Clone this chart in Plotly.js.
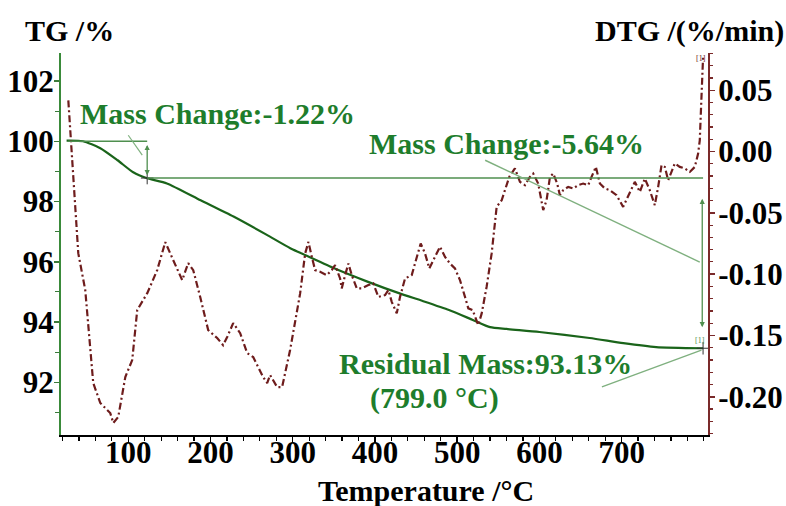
<!DOCTYPE html>
<html>
<head>
<meta charset="utf-8">
<script src="https://cdn.plot.ly/plotly-3.0.1.min.js"></script>
<style>html,body{margin:0;padding:0;background:#fff;}#chart{width:786px;height:506px;}</style>
</head>
<body>
<div id="chart"></div>
<script>
// ---- TG curve (Temperature °C, mass %)
const tgTemp = [25,45,66,87,106,123,147,188,228,268,297,309,349,390,430,458,490,519,540,560,600,661,702,742,799];
const tgMass = [100.02,100.0,99.77,99.37,98.97,98.77,98.6,98.04,97.5,96.9,96.45,96.3,95.8,95.35,94.95,94.7,94.4,94.07,93.83,93.77,93.67,93.47,93.3,93.17,93.13];

// ---- DTG curve (Temperature °C, %/min)
const dtgTemp = [27.1,33.1,39.2,47.7,57.4,66.0,78.1,81.8,87.8,96.4,104.8,110.9,123.1,135.2,145.0,154.7,165.6,172.9,179.0,187.5,197.2,208.1,215.4,220.3,227.6,236.1,244.6,251.9,264.0,268.9,272.5,281.0,287.1,296.8,302.9,309.0,315.1,319.1,323.2,327.2,333.3,341.4,347.5,351.5,357.6,359.6,363.7,367.7,371.8,377.9,383.9,392.0,398.0,404.1,412.3,416.3,420.4,426.5,430.5,436.6,444.7,450.8,455.6,460.9,466.1,473.0,479.1,485.2,491.2,497.3,503.4,509.5,513.5,518.8,523.7,525.6,529.8,535.8,541.9,548.0,554.1,558.1,563.3,570.2,576.3,582.4,588.4,592.5,598.5,604.6,608.7,612.8,616.8,621.6,624.9,628.9,635.0,641.1,647.1,653.2,659.3,663.4,668.6,673.5,679.6,685.6,693.8,701.8,709.9,716.0,722.1,728.2,734.2,740.3,744.4,748.5,752.5,756.5,760.6,764.6,770.7,776.8,782.9,789.0,793.0,795.0,796.9,799.0];
const dtgRate = [0.0418,-0.0234,-0.0829,-0.113,-0.1888,-0.2051,-0.2133,-0.2214,-0.2165,-0.1839,-0.1701,-0.1293,-0.1155,-0.0967,-0.0739,-0.0886,-0.1049,-0.0910,-0.0967,-0.1187,-0.1456,-0.1521,-0.1579,-0.1513,-0.1399,-0.1481,-0.1644,-0.1676,-0.1839,-0.1888,-0.1823,-0.1921,-0.1921,-0.1619,-0.1402,-0.1157,-0.0831,-0.0737,-0.0859,-0.0967,-0.0981,-0.1008,-0.0967,-0.0926,-0.1035,-0.1116,-0.1008,-0.0913,-0.1008,-0.1116,-0.1116,-0.1089,-0.1076,-0.1185,-0.1171,-0.1130,-0.1226,-0.1320,-0.1185,-0.1035,-0.1008,-0.0859,-0.0750,-0.0831,-0.0953,-0.0859,-0.0777,-0.0859,-0.0913,-0.0953,-0.1049,-0.1185,-0.1279,-0.1293,-0.1375,-0.1415,-0.1320,-0.1103,-0.0831,-0.0451,-0.0397,-0.0315,-0.0207,-0.0138,-0.0247,-0.0274,-0.0207,-0.0179,-0.0261,-0.0478,-0.0397,-0.0207,-0.0179,-0.0261,-0.0356,-0.0315,-0.0288,-0.0301,-0.0274,-0.0261,-0.0274,-0.0207,-0.0125,-0.0261,-0.0301,-0.0315,-0.0356,-0.0451,-0.0342,-0.0247,-0.0329,-0.0220,-0.0315,-0.0437,-0.0288,-0.0111,-0.0125,-0.0234,-0.0166,-0.0097,-0.0125,-0.0138,-0.0166,-0.0125,-0.0016,0.0092,0.0418,0.0769];

// ---- ticks
const xTickVals = [100,200,300,400,500,600,700];
const tgTickVals = [92,94,96,98,100,102];
const dtgTickVals = [0.05,0.00,-0.05,-0.10,-0.15,-0.20];
const dtgTickText = ["0.05","0.00","-0.05","-0.10","-0.15","-0.20"];

// ---- annotation values
const step1 = {tStart: 27, tEnd: 123, mStart: 100.0, mEnd: 98.78};
const endPoint = {t: 799, m: 93.13};
const labels = {
  change1: "Mass Change:-1.22%",
  change2: "Mass Change:-5.64%",
  residual: "Residual Mass:93.13%",
  residualT: "(799.0 °C)"
};

const FONT = "Liberation Serif, Times New Roman, serif";
const GREEN_TXT = "#1e7d2c";
const GREEN_LINE = "#4f8f4f";
const GREEN_THIN = "#7fb07f";
const TG_COLOR = "#1a641a";
const DTG_COLOR = "#6e1c1c";

const traces = [
  {x: dtgTemp, y: dtgRate, yaxis: 'y2', mode: 'lines', line: {color: DTG_COLOR, width: 2.2, dash: '7px,3px,2px,3px'}, hoverinfo: 'skip'},
  {x: tgTemp, y: tgMass, mode: 'lines', line: {color: TG_COLOR, width: 2.2, shape: 'spline', smoothing: 0.6}, hoverinfo: 'skip'},
  {x: [step1.tEnd, endPoint.t], y: [step1.mEnd, endPoint.m], mode: 'markers', marker: {symbol: 'cross-thin', size: 9, line: {color: '#333', width: 1}}, hoverinfo: 'skip'}
];

const tickFont = {family: FONT, size: 31, color: '#000', weight: 'bold'};
const annFont = {family: FONT, size: 30, color: GREEN_TXT, weight: 'bold'};
const titleFont = {family: FONT, size: 30, color: '#000', weight: 'bold'};

const layout = {
  width: 786, height: 506,
  margin: {l: 61, r: 78, t: 53, b: 71},
  paper_bgcolor: '#fff', plot_bgcolor: '#fff',
  showlegend: false,
  xaxis: {
    range: [18.2, 805], tickvals: xTickVals, showgrid: false, zeroline: false,
    showline: true, linecolor: '#000', linewidth: 2,
    ticks: 'outside', ticklen: 6, tickwidth: 1.5, tickcolor: '#000',
    minor: {dtick: 20, tick0: 0, ticks: 'outside', ticklen: 4, tickcolor: '#000', tickwidth: 1.2},
    tickfont: tickFont, ticklabelstandoff: -17
  },
  yaxis: {
    range: [90.25, 102.93], tickvals: tgTickVals, showgrid: false, zeroline: false,
    showline: true, linecolor: '#3a8a3a', linewidth: 2,
    ticks: 'outside', ticklen: 5, tickwidth: 1.5, tickcolor: '#3a7a3a',
    minor: {dtick: 1, tick0: 0, ticks: 'outside', ticklen: 4, tickcolor: '#3a7a3a', tickwidth: 1.2},
    tickfont: tickFont, ticklabelstandoff: -6
  },
  yaxis2: {
    overlaying: 'y', side: 'right', anchor: 'x',
    range: [-0.2312, 0.0804], tickvals: dtgTickVals, ticktext: dtgTickText,
    showgrid: false, zeroline: false,
    showline: true, linecolor: '#7a2a2a', linewidth: 2,
    ticks: 'outside', ticklen: 5, tickwidth: 1.5, tickcolor: '#7a2a2a',
    minor: {dtick: 0.01, tick0: 0, ticks: 'outside', ticklen: 3, tickcolor: '#7a2a2a', tickwidth: 1.2},
    tickfont: tickFont, ticklabelstandoff: -3
  },
  shapes: [
    {type: 'line', xref: 'x', yref: 'y', x0: step1.tStart, x1: step1.tEnd, y0: step1.mStart, y1: step1.mStart, line: {color: GREEN_LINE, width: 1.6}},
    {type: 'line', xref: 'x', yref: 'y', x0: step1.tEnd, x1: endPoint.t, y0: step1.mEnd, y1: step1.mEnd, line: {color: GREEN_LINE, width: 1.6}},
    {type: 'line', xref: 'x', yref: 'y', x0: 100, x1: 117, y0: 100.2, y1: 99.54, line: {color: GREEN_THIN, width: 1.2}},
    {type: 'line', xref: 'x', yref: 'y', x0: 534, x1: 795, y0: 99.37, y1: 95.99, line: {color: GREEN_THIN, width: 1.4}},
    {type: 'line', xref: 'x', yref: 'y', x0: 676, x1: 797, y0: 91.85, y1: 93.07, line: {color: GREEN_THIN, width: 1.4}}
  ],
  annotations: [
    {xref: 'paper', yref: 'paper', x: 0.0139, y: 1.0576, text: 'TG /%', showarrow: false, xanchor: 'center', yanchor: 'middle', font: titleFont},
    {xref: 'paper', yref: 'paper', x: 0.972, y: 1.0576, text: 'DTG /(%/min)', showarrow: false, xanchor: 'center', yanchor: 'middle', font: titleFont},
    {xref: 'paper', yref: 'paper', x: 0.564, y: -0.144, text: 'Temperature /°C', showarrow: false, xanchor: 'center', yanchor: 'middle', font: titleFont},
    {xref: 'x', yref: 'y', x: 209, y: 100.93, text: labels.change1, showarrow: false, xanchor: 'center', yanchor: 'middle', font: annFont},
    {xref: 'x', yref: 'y', x: 560, y: 99.93, text: labels.change2, showarrow: false, xanchor: 'center', yanchor: 'middle', font: annFont},
    {xref: 'x', yref: 'y', x: 534, y: 92.64, text: labels.residual, showarrow: false, xanchor: 'center', yanchor: 'middle', font: annFont},
    {xref: 'x', yref: 'y', x: 472, y: 91.48, text: labels.residualT, showarrow: false, xanchor: 'center', yanchor: 'middle', font: annFont},
    {xref: 'x', yref: 'y', axref: 'x', ayref: 'y', x: step1.tEnd, y: 98.87, ax: step1.tEnd, ay: 99.93, text: '', showarrow: true, arrowside: 'end+start', arrowhead: 2, arrowsize: 0.8, arrowwidth: 1.3, arrowcolor: GREEN_LINE},
    {xref: 'x', yref: 'y', axref: 'x', ayref: 'y', x: 798, y: 93.83, ax: 798, ay: 98.14, text: '', showarrow: true, arrowside: 'end+start', arrowhead: 2, arrowsize: 0.8, arrowwidth: 1.3, arrowcolor: GREEN_LINE},
    {xref: 'x', yref: 'y', x: 796, y: 102.75, text: '[1]', showarrow: false, font: {family: FONT, size: 8, color: DTG_COLOR}},
    {xref: 'x', yref: 'y', x: 795, y: 93.4, text: '[1]', showarrow: false, font: {family: FONT, size: 8, color: '#4f8f4f'}}
  ]
};

Plotly.newPlot('chart', traces, layout, {staticPlot: true, displayModeBar: false});
</script>
</body>
</html>
